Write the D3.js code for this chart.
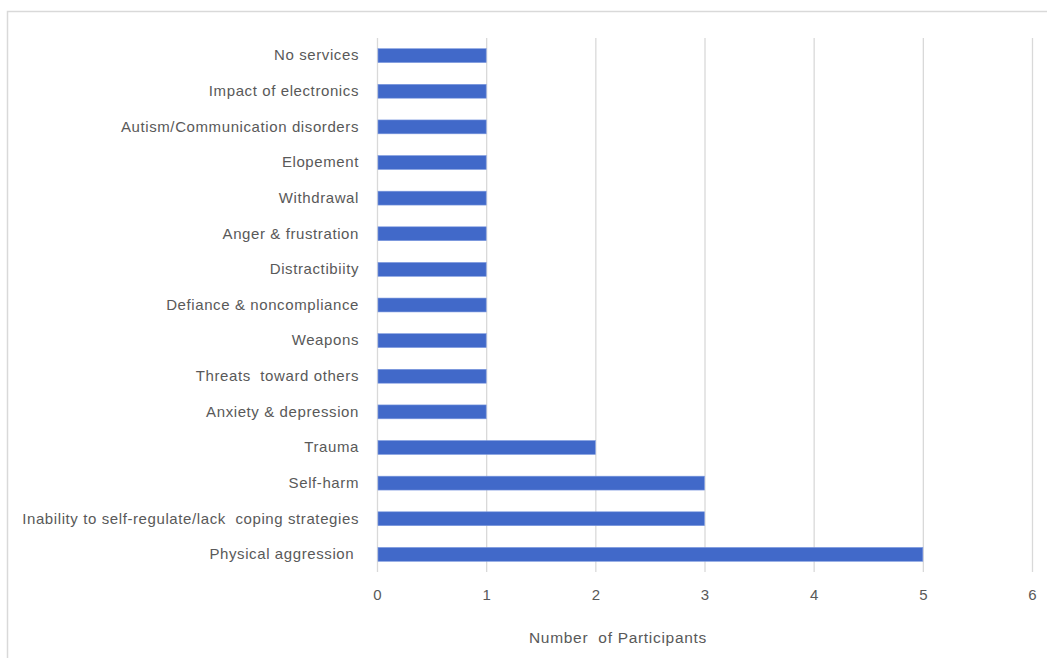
<!DOCTYPE html>
<html>
<head>
<meta charset="utf-8">
<script src="https://cdn.jsdelivr.net/npm/d3@7"></script>
<style>
  html, body { margin: 0; padding: 0; background: #fff; }
  svg { display: block; }
  text { font-family: "Liberation Sans", "DejaVu Sans", sans-serif; fill: #595959; white-space: pre; }
</style>
</head>
<body>
<svg id="chart" width="1047" height="658"></svg>
<script>
// Reported concerns, listed top to bottom
const categories = [
  "No services",
  "Impact of electronics",
  "Autism/Communication disorders",
  "Elopement",
  "Withdrawal",
  "Anger & frustration",
  "Distractibiity",
  "Defiance & noncompliance",
  "Weapons",
  "Threats  toward others",
  "Anxiety & depression",
  "Trauma",
  "Self-harm",
  "Inability to self-regulate/lack  coping strategies",
  "Physical aggression "
];
const participants = [1, 1, 1, 1, 1, 1, 1, 1, 1, 1, 1, 2, 3, 3, 5];
const xTicks = [0, 1, 2, 3, 4, 5, 6];
const xTitle = "Number  of Participants";

const svg = d3.select("#chart");

// Outer chart frame
svg.append("rect")
  .attr("x", 7.5).attr("y", 11.5)
  .attr("width", 1100).attr("height", 700)
  .attr("fill", "none")
  .attr("stroke", "#d9d9d9")
  .attr("stroke-width", 1.5);

const plot = { left: 377, right: 1032, top: 38, bottom: 572 };

const x = d3.scaleLinear().domain([0, 6]).range([plot.left, plot.right]);
const y = d3.scaleBand().domain(categories).range([plot.top, plot.bottom]).paddingInner(0.61).paddingOuter(0.3);

// Vertical gridlines
svg.append("g")
  .selectAll("line")
  .data(xTicks)
  .join("line")
  .attr("x1", d => x(d) + 0.5).attr("x2", d => x(d) + 0.5)
  .attr("y1", plot.top).attr("y2", plot.bottom)
  .attr("stroke", "#d9d9d9")
  .attr("stroke-width", 1.3);

// Bars
svg.append("g")
  .selectAll("rect")
  .data(categories.map((c, i) => ({ c, v: participants[i] })))
  .join("rect")
  .attr("x", x(0) + 1)
  .attr("y", d => y(d.c))
  .attr("width", d => x(d.v) - x(0) - 1)
  .attr("height", y.bandwidth())
  .attr("fill", "#4169c9")
  .attr("stroke", "#7f9be0")
  .attr("stroke-width", 0.6);

// Category labels
const yAxis = d3.axisLeft(y).tickSize(0).tickPadding(18);
const gy = svg.append("g").attr("transform", `translate(${plot.left},0)`).call(yAxis);
gy.select(".domain").remove();
gy.selectAll("text")
  .attr("xml:space", "preserve")
  .style("font-size", "15px")
  .style("letter-spacing", "0.6px")
  .attr("fill", "#595959");

// Value axis tick labels
const xAxis = d3.axisBottom(x).tickValues(xTicks).tickFormat(d3.format("d")).tickSize(0).tickPadding(17);
const gx = svg.append("g").attr("transform", `translate(0,${plot.bottom})`).call(xAxis);
gx.select(".domain").remove();
gx.selectAll("text")
  .style("font-size", "15px")
  .attr("fill", "#595959");

// Axis title
svg.append("text")
  .attr("x", 618).attr("y", 643)
  .attr("text-anchor", "middle")
  .attr("xml:space", "preserve")
  .style("font-size", "15.5px")
  .style("letter-spacing", "0.7px")
  .text(xTitle);
</script>
</body>
</html>
